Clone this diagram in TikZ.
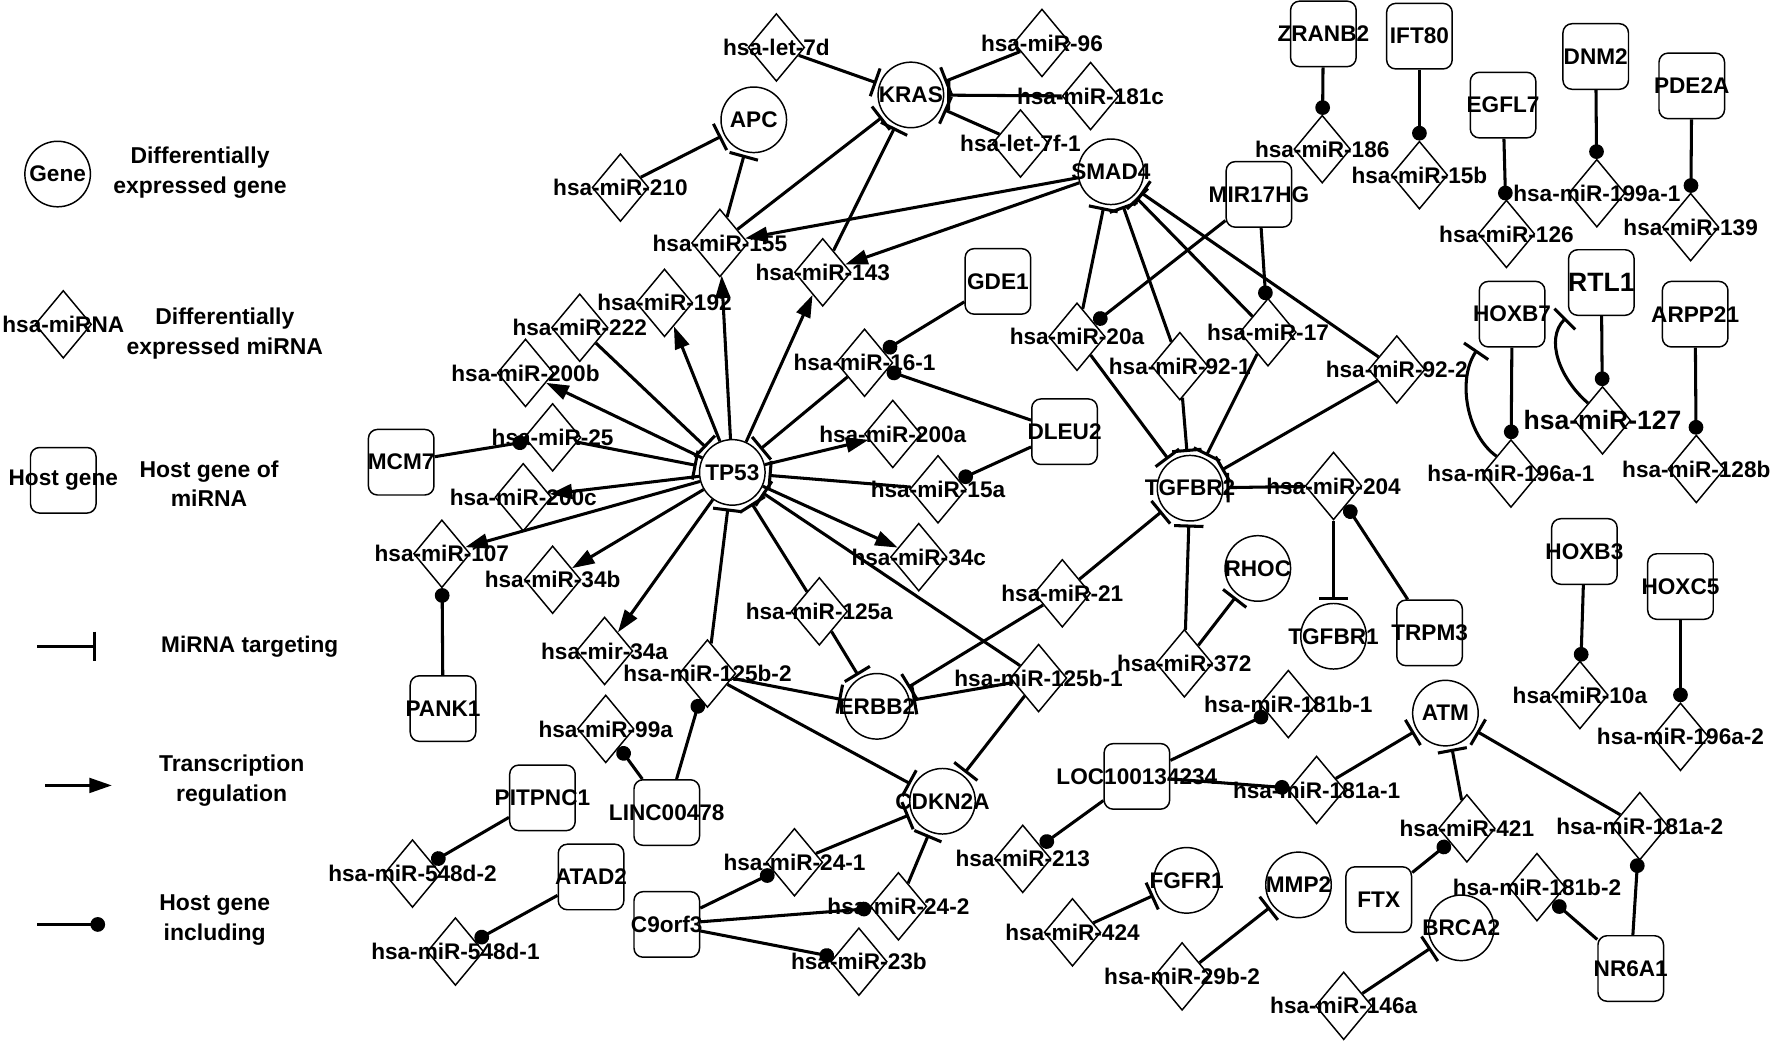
\documentclass[tikz,border=0pt]{standalone}
\usepackage{fontspec}
\setmainfont{Liberation Sans}
\usetikzlibrary{shapes.geometric,arrows.meta}
\tikzset{
  lbl/.style={font=\bfseries\fontsize{20}{24}\selectfont, inner sep=0pt},
  lblbig/.style={font=\bfseries\fontsize{23.5}{27}\selectfont, inner sep=0pt},
  lbltwo/.style={font=\bfseries\fontsize{20.3}{26.5}\selectfont, inner sep=0pt, align=center},
  gene/.style={circle, draw, line width=1.3pt, minimum size=58pt, inner sep=0pt},
  mir/.style={diamond, draw, line width=1.3pt, minimum width=50pt, minimum height=60pt, inner sep=0pt},
  hostbox/.style={rectangle, rounded corners=8pt, draw, line width=1.3pt, minimum size=58pt, inner sep=0pt},
  tgt/.style={line width=2.7pt, -{Bar[width=26pt]}, shorten >=2.5pt},
  trn/.style={line width=2.7pt, -{Triangle[length=20pt,width=13pt]}},
  hst/.style={line width=2.7pt, -{Circle[length=13pt]}},
}
\newcommand\gnode[3]{\node[gene,label={[lbl]center:#3}] (#1) at (#2) {};}
\newcommand\mnode[3]{\node[mir,label={[lbl]center:#3}] (#1) at (#2) {};}
\newcommand\hnode[3]{\node[hostbox,label={[lbl]center:#3}] (#1) at (#2) {};}
\begin{document}
\begin{tikzpicture}[x=1pt,y=-1pt]
\fill[white] (0,0) rectangle (1568,921);
\useasboundingbox (0,0) rectangle (1568,921);

% ---------- legend ----------
\gnode{legG}{51,154}{Gene}
\node[lbltwo] (legGt) at (177,153) {Differentially\\expressed gene};
\mnode{legM}{56,287}{hsa-miRNA}
\node[lbltwo] (legMt) at (199,295) {Differentially\\expressed miRNA};
\hnode{legH}{56,425}{Host gene}
\node[lbltwo] (legHt) at (185,428) {Host gene of\\miRNA};
\coordinate (lta) at (33,572); \coordinate (ltb) at (85,572);
\draw[tgt, shorten >=0pt] (lta) -- (ltb);
\node[lbl] (legTt) at (221,572) {MiRNA targeting};
\coordinate (lra) at (40,695); \coordinate (lrb) at (99,695);
\draw[trn] (lra) -- (lrb);
\node[lbltwo] (legRt) at (205,691) {Transcription\\regulation};
\coordinate (lha) at (33,818); \coordinate (lhb) at (93,818);
\draw[hst] (lha) -- (lhb);
\node[lbltwo] (legIt) at (190,814) {Host gene\\including};

% ---------- genes ----------
\gnode{KRAS}{806,84}{KRAS}
\gnode{APC}{667,106}{APC}
\gnode{SMAD4}{983,152}{SMAD4}
\gnode{TP53}{648,418}{TP53}
\gnode{TGFBR2}{1053,432}{TGFBR2}
\gnode{RHOC}{1113,503}{RHOC}
\gnode{TGFBR1}{1180,563}{TGFBR1}
\gnode{ERBB2}{776,625}{ERBB2}
\gnode{CDKN2A}{834,709}{CDKN2A}
\gnode{ATM}{1279,631}{ATM}
\gnode{FGFR1}{1050,779}{FGFR1}
\gnode{MMP2}{1149,783}{MMP2}
\gnode{BRCA2}{1293,821}{BRCA2}

% ---------- miRNAs ----------
\mnode{let7d}{687,42}{hsa-let-7d}
\mnode{m96}{922,38}{hsa-miR-96}
\mnode{m181c}{965,85}{hsa-miR-181c}
\mnode{let7f1}{903,127}{hsa-let-7f-1}
\mnode{m210}{549,166}{hsa-miR-210}
\mnode{m155}{637,215}{hsa-miR-155}
\mnode{m143}{728,241}{hsa-miR-143}
\mnode{m192}{588,268}{hsa-miR-192}
\mnode{m222}{513,290}{hsa-miR-222}
\mnode{m200b}{465,330}{hsa-miR-200b}
\mnode{m161}{765,321}{hsa-miR-16-1}
\mnode{m25}{489,387}{hsa-miR-25}
\mnode{m200a}{790,384}{hsa-miR-200a}
\mnode{m15a}{830,433}{hsa-miR-15a}
\mnode{m200c}{463,440}{hsa-miR-200c}
\mnode{m107}{391,490}{hsa-miR-107}
\mnode{m34b}{489,513}{hsa-miR-34b}
\mnode{m34c}{813,493}{hsa-miR-34c}
\mnode{m125a}{725,541}{hsa-miR-125a}
\mnode{m34a}{535,576}{hsa-mir-34a}
\mnode{m125b2}{626,596}{hsa-miR-125b-2}
\mnode{m125b1}{919,600}{hsa-miR-125b-1}
\mnode{m21}{940,525}{hsa-miR-21}
\mnode{m99a}{536,645}{hsa-miR-99a}
\mnode{m548d2}{365,773}{hsa-miR-548d-2}
\mnode{m548d1}{403,842}{hsa-miR-548d-1}
\mnode{m241}{703,763}{hsa-miR-24-1}
\mnode{m242}{795,802}{hsa-miR-24-2}
\mnode{m23b}{760,851}{hsa-miR-23b}
\mnode{m20a}{953,298}{hsa-miR-20a}
\mnode{m921}{1044,324}{hsa-miR-92-1}
\mnode{m17}{1122,294}{hsa-miR-17}
\mnode{m922}{1236,327}{hsa-miR-92-2}
\mnode{m204}{1180,430}{hsa-miR-204}
\mnode{m372}{1048,587}{hsa-miR-372}
\mnode{m186}{1170,132}{hsa-miR-186}
\mnode{m15b}{1256,155}{hsa-miR-15b}
\mnode{m126}{1333,207}{hsa-miR-126}
\mnode{m199a1}{1413,171}{hsa-miR-199a-1}
\mnode{m139}{1496,201}{hsa-miR-139}
\mnode{m196a1}{1337,419}{hsa-miR-196a-1}
\node[mir,label={[lblbig]center:hsa-miR-127}] (m127) at (1418,372) {};
\mnode{m128b}{1501,415}{hsa-miR-128b}
\mnode{m10a}{1398,615}{hsa-miR-10a}
\mnode{m196a2}{1487,652}{hsa-miR-196a-2}
\mnode{m181b1}{1140,623}{hsa-miR-181b-1}
\mnode{m181a1}{1165,699}{hsa-miR-181a-1}
\mnode{m213}{905,760}{hsa-miR-213}
\mnode{m424}{949,825}{hsa-miR-424}
\mnode{m29b2}{1046,864}{hsa-miR-29b-2}
\mnode{m146a}{1189,890}{hsa-miR-146a}
\mnode{m421}{1298,733}{hsa-miR-421}
\mnode{m181a2}{1451,731}{hsa-miR-181a-2}
\mnode{m181b2}{1360,785}{hsa-miR-181b-2}

% ---------- host genes ----------
\hnode{ZRANB2}{1171,30}{ZRANB2}
\hnode{IFT80}{1256,32}{IFT80}
\hnode{EGFL7}{1330,93}{EGFL7}
\hnode{DNM2}{1412,50}{DNM2}
\hnode{PDE2A}{1497,76}{PDE2A}
\hnode{MIR17HG}{1114,172}{MIR17HG}
\hnode{GDE1}{883,249}{GDE1}
\hnode{DLEU2}{942,382}{DLEU2}
\hnode{HOXB7}{1338,278}{HOXB7}
\node[hostbox,label={[lblbig]center:RTL1}] (RTL1) at (1417,250) {};
\hnode{ARPP21}{1500,278}{ARPP21}
\hnode{MCM7}{355,409}{MCM7}
\hnode{PANK1}{392,627}{PANK1}
\hnode{LINC}{590,719}{LINC00478}
\hnode{PITPNC1}{480,706}{PITPNC1}
\hnode{ATAD2}{523,776}{ATAD2}
\hnode{C9orf3}{590,818}{C9orf3}
\hnode{TRPM3}{1265,560}{TRPM3}
\hnode{HOXB3}{1402,488}{HOXB3}
\hnode{HOXC5}{1487,519}{HOXC5}
\hnode{LOC}{1006,687}{LOC100134234}
\hnode{FTX}{1220,796}{FTX}
\hnode{NR6A1}{1443,857}{NR6A1}

% ---------- miRNA targeting ----------
\foreach \s in {let7d,m96,m181c,let7f1,m155,m143} \draw[tgt] (\s) -- (KRAS);
\foreach \s in {m210,m155} \draw[tgt] (\s) -- (APC);
\foreach \s in {m20a,m921,m17,m922} \draw[tgt] (\s) -- (SMAD4);
\foreach \s in {m20a,m921,m17,m922,m204,m21,m372} \draw[tgt] (\s) -- (TGFBR2);
\foreach \s in {m222,m25,m161,m15a,m125b2,m125a,m125b1} \draw[tgt] (\s) -- (TP53);
\foreach \s in {m125a,m125b2,m21,m125b1} \draw[tgt] (\s) -- (ERBB2);
\foreach \s in {m125b2,m125b1,m241,m242} \draw[tgt] (\s) -- (CDKN2A);
\draw[tgt] (m372) -- (RHOC);
\draw[tgt] (m204) -- (TGFBR1);
\foreach \s in {m181a1,m421,m181a2} \draw[tgt] (\s) -- (ATM);
\draw[tgt] (m424) -- (FGFR1);
\draw[tgt] (m29b2) -- (MMP2);
\draw[tgt] (m146a) -- (BRCA2);
\draw[tgt] (m196a1.north west) .. controls (1298,385) and (1289,336) .. (HOXB7.south west);
\draw[tgt] (m127.north west) .. controls (1380,335) and (1367,300) .. (RTL1.south west);

% ---------- transcription regulation ----------
\foreach \t in {m155,m143} \draw[trn] (SMAD4) -- (\t);
\foreach \t in {m155,m192,m143,m200b,m200a,m200c,m107,m34b,m34a,m34c} \draw[trn] (TP53) -- (\t);

% ---------- host gene including ----------
\draw[hst] (ZRANB2) -- (m186);
\draw[hst] (IFT80) -- (m15b);
\draw[hst] (EGFL7) -- (m126);
\draw[hst] (DNM2) -- (m199a1);
\draw[hst] (PDE2A) -- (m139);
\draw[hst] (HOXB7) -- (m196a1);
\draw[hst] (RTL1) -- (m127);
\draw[hst] (ARPP21) -- (m128b);
\draw[hst] (HOXB3) -- (m10a);
\draw[hst] (HOXC5) -- (m196a2);
\draw[hst] (MIR17HG) -- (m20a);
\draw[hst] (MIR17HG) -- (m17);
\draw[hst] (GDE1) -- (m161);
\draw[hst] (DLEU2) -- (m161);
\draw[hst] (DLEU2) -- (m15a);
\draw[hst] (MCM7) -- (m25);
\draw[hst] (PANK1) -- (m107);
\draw[hst] (LINC) -- (m99a);
\draw[hst] (LINC) -- (m125b2);
\draw[hst] (PITPNC1) -- (m548d2);
\draw[hst] (ATAD2) -- (m548d1);
\draw[hst] (C9orf3) -- (m241);
\draw[hst] (C9orf3) -- (m242);
\draw[hst] (C9orf3) -- (m23b);
\draw[hst] (TRPM3) -- (m204);
\draw[hst] (LOC) -- (m181b1);
\draw[hst] (LOC) -- (m181a1);
\draw[hst] (LOC) -- (m213);
\draw[hst] (FTX) -- (m421);
\draw[hst] (NR6A1) -- (m181a2);
\draw[hst] (NR6A1) -- (m181b2);
\end{tikzpicture}
\end{document}
